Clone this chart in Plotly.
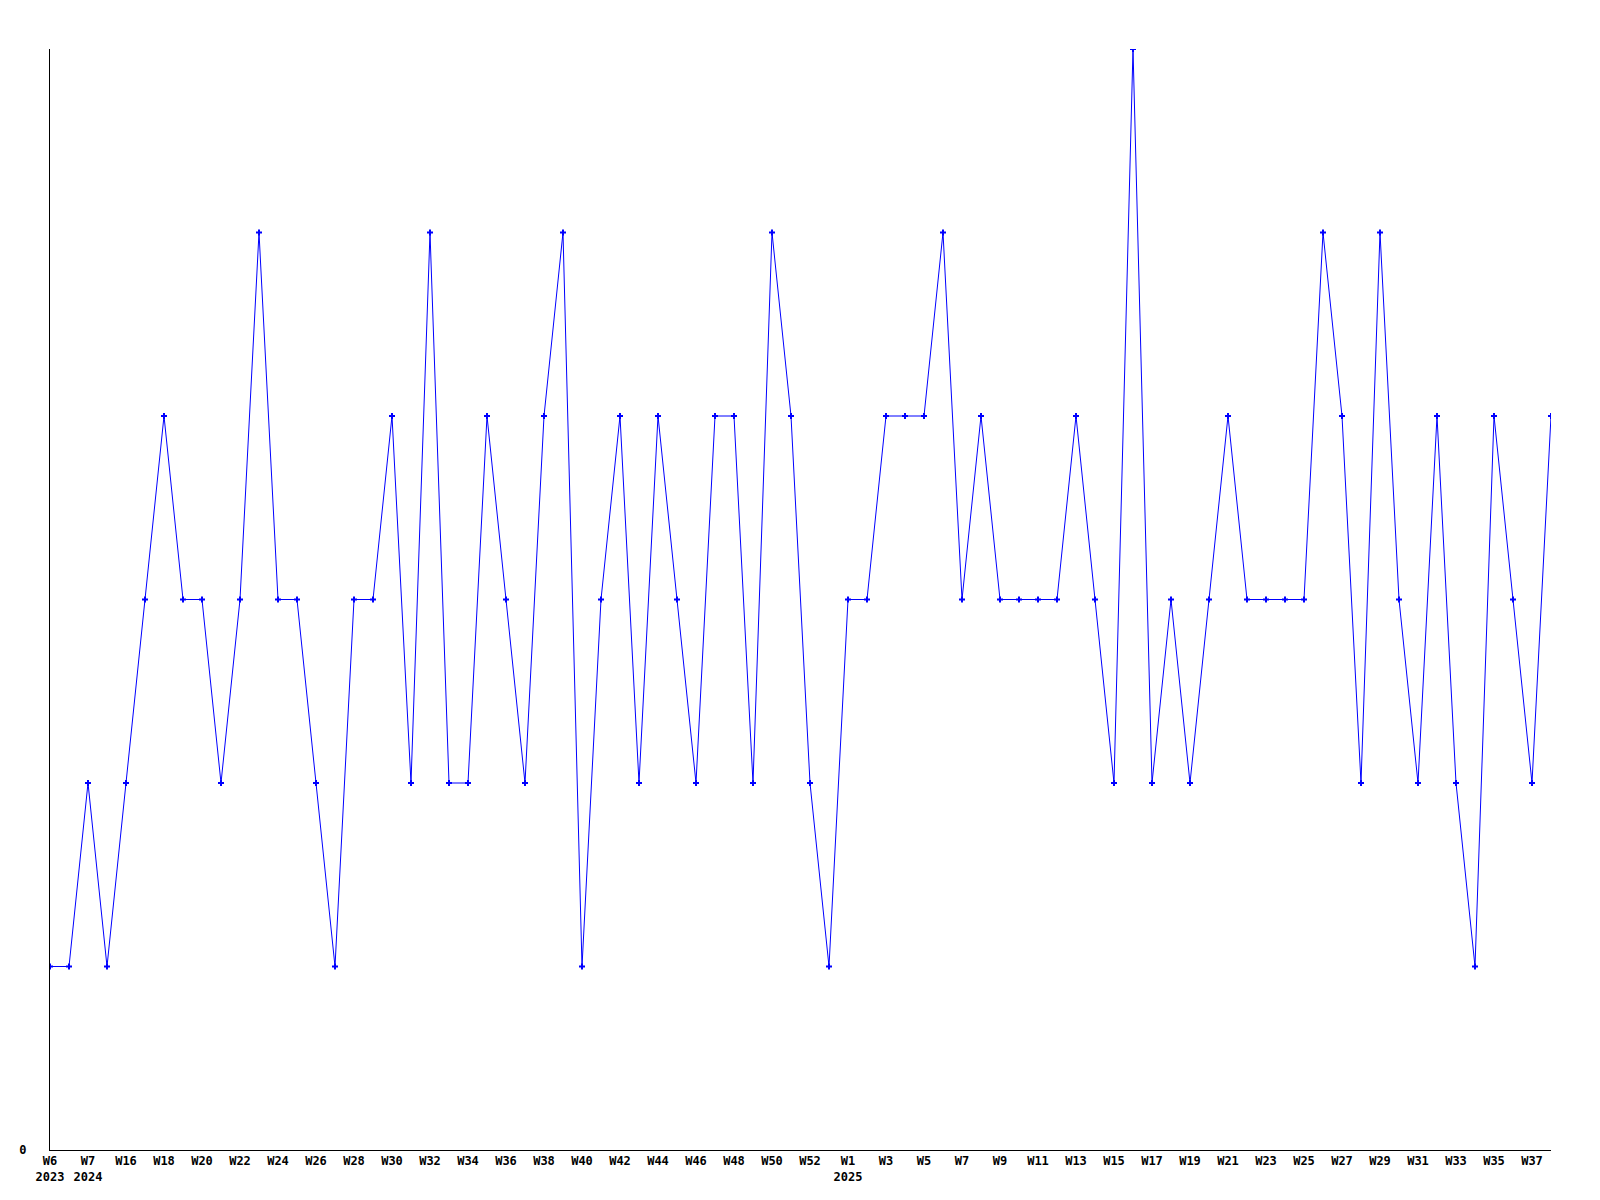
import plotly.graph_objects as go

weeks = ["W6", "W52", "W7", "W15"] + [f"W{w}" for w in range(16, 54)] + [f"W{w}" for w in range(1, 39)]
years = ["2023", "2023", "2024", "2024"] + ["2024"] * 38 + ["2025"] * 38
values = [1, 1, 2, 1, 2, 3, 4, 3, 3, 2, 3, 5, 3, 3, 2, 1, 3, 3, 4, 2,
          5, 2, 2, 4, 3, 2, 4, 5, 1, 3, 4, 2, 4, 3, 2, 4, 4, 2, 5, 4,
          2, 1, 3, 3, 4, 4, 4, 5, 3, 4, 3, 3, 3, 3, 4, 3, 2, 6, 2, 3,
          2, 3, 4, 3, 3, 3, 3, 5, 4, 2, 5, 3, 2, 4, 2, 1, 4, 3, 2, 4]

x = list(range(len(values)))

# tick labels every other point, year shown at first labelled point of each year
tickvals, ticktext = [], []
seen_years = set()
for i in range(0, len(values), 2):
    lab = weeks[i]
    if years[i] not in seen_years:
        lab += "<br>" + years[i]
        seen_years.add(years[i])
    tickvals.append(i)
    ticktext.append(lab)

fig = go.Figure()
fig.add_trace(go.Scatter(
    x=x, y=values, mode="lines+markers",
    line=dict(color="#0000ff", width=1),
    marker=dict(symbol="cross", size=5, color="#0000ff", line=dict(width=0)),
    hoverinfo="skip",
))

fig.update_layout(
    width=1600, height=1200,
    margin=dict(l=42, r=57, t=41, b=58),
    paper_bgcolor="white", plot_bgcolor="white",
    showlegend=False,
    font=dict(family="DejaVu Sans Mono", size=12, color="black", weight="bold"),
)
fig.update_xaxes(
    range=[0, len(values) - 1], tickvals=tickvals, ticktext=ticktext,
    showgrid=False, zeroline=False, showline=True, linecolor="black", linewidth=1,
    ticks="", tickangle=0,
)
fig.update_yaxes(
    range=[0, 6], tickvals=[0], ticktext=["0"],
    showgrid=False, zeroline=False, showline=True, linecolor="black", linewidth=1,
    ticks="", ticklabelstandoff=20,
)

fig.write_html("out.html")
